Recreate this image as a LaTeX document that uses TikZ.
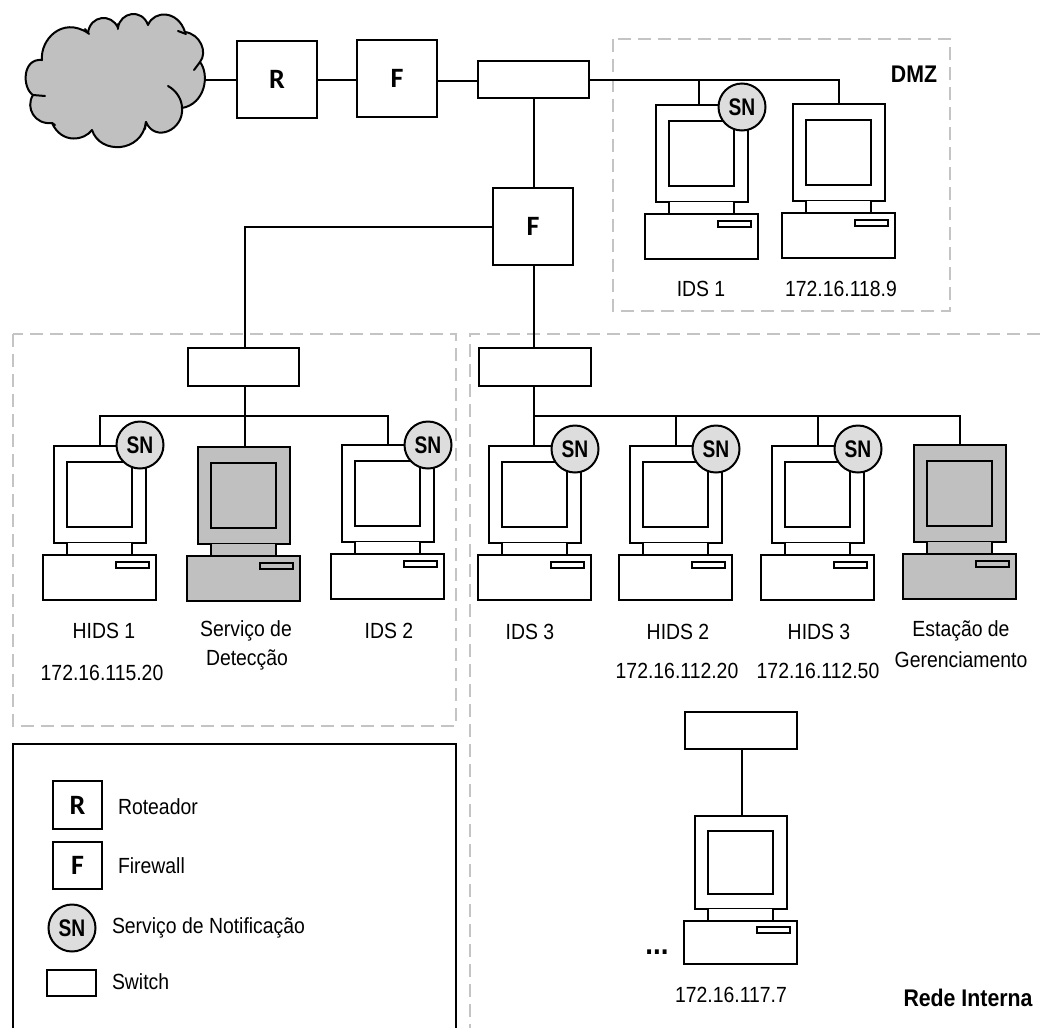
\documentclass[tikz,border=0pt]{standalone}
\usepackage{fontspec}
\usepackage{graphicx}
\setmainfont{Liberation Sans}
\newfontfamily\lblfont{Carlito}[BoldFont={Carlito Bold}]
\newcommand{\tl}[1]{\scalebox{1}[1.13]{\fontsize{19.4}{22}\selectfont #1}}
\newcommand{\tb}[1]{\scalebox{1}[1.13]{\fontsize{21.3}{24}\selectfont\bfseries #1}}
\newcommand{\snt}{\raisebox{-3pt}{\scalebox{0.8}[1]{\fontsize{24}{26}\selectfont\bfseries SN}}}
\newcommand{\letter}[1]{\raisebox{-3.5pt}{\fontsize{28}{30}\selectfont\lblfont\bfseries #1}}
\definecolor{lightfill}{HTML}{C0C0C0}
\definecolor{snfill}{HTML}{DDDDDD}
\definecolor{dashgray}{HTML}{C4C4C4}
\tikzset{
  x=1pt,y=-1pt,
  wire/.style={draw=black,line width=2pt},
  boxnode/.style={draw=black,fill=white,line width=2pt,inner sep=0pt,outer sep=0pt,anchor=north west},
  sn/.style={circle,draw=black,fill=snfill,line width=2pt,minimum size=47pt,inner sep=0pt,outer sep=0pt,text=black},
  zone/.style={draw=dashgray,line width=2pt,dash pattern=on 13pt off 7pt},
  txt/.style={inner sep=0pt,outer sep=0pt,text=black},
  pics/computer/.style={code={
    \filldraw[fill=#1,draw=black] (-46,0) rectangle (46,97);
    \filldraw[fill=#1,draw=black] (-33,16) rectangle (32,81);
    \fill[#1] (-33,97) rectangle (32,109);
    \draw (-33,97) -- (-33,109);
    \draw (32,97) -- (32,109);
    \filldraw[fill=#1,draw=black] (-57,109) rectangle (56,154);
    \filldraw[fill=#1,draw=black] (16,116) rectangle (49,122);
    \coordinate (-top) at (0,0);
  }}
}
\begin{document}
\begin{tikzpicture}[line width=2pt]
\useasboundingbox (0,0) rectangle (1040,1028);

% zones
\draw[zone] (613,39) rectangle (950,311);
\draw[zone] (13,334) rectangle (456,726);
\draw[zone] (1040,334) -- (470,334) -- (470,1028);
\draw[black,line width=1.6pt] (13,1028) -- (13,744) -- (456,744) -- (456,1028);

% cloud
\coordinate (cloudport) at (206,80);
\filldraw[fill=lightfill,draw=black,line join=round]
  (42,60) .. controls (40,40) and (62,16) .. (88,33)
  .. controls (90,15) and (112,13) .. (118,28)
  .. controls (120,12) and (142,8) .. (148,25)
  .. controls (154,10) and (178,10) .. (185,32)
  .. controls (200,34) and (208,52) .. (200,62)
  .. controls (210,75) and (205,104) .. (182,108)
  .. controls (184,130) and (155,143) .. (146,122)
  .. controls (142,153) and (100,155) .. (92,130)
  .. controls (85,140) and (62,145) .. (52,123)
  .. controls (35,125) and (25,108) .. (33,95)
  .. controls (22,88) and (22,58) .. (42,60) -- cycle;
\draw[line cap=round] (168,86) .. controls (177,91) and (182,100) .. (182,108);
\draw[line cap=round] (194,70) -- (200,62);
\draw[line cap=round] (178,31) -- (186,34);
\draw[line cap=round] (33,95) -- (45,96);
\draw[line cap=round] (146,122) -- (145,129);
\draw[line cap=round] (85,29) -- (89,34);
\draw[line cap=round] (118,24) -- (118,29);
\draw[line cap=round] (52,123) -- (55,125);

% switches, firewalls, router
\node[boxnode,minimum width=80pt,minimum height=77pt] (R) at (237,41) {\letter{R}};
\node[boxnode,minimum width=80pt,minimum height=77pt] (F1) at (357,40) {\letter{F}};
\node[boxnode,minimum width=111pt,minimum height=37pt] (swtop) at (478,61) {};
\node[boxnode,minimum width=80pt,minimum height=77pt] (F2) at (493,188) {\letter{F}};
\node[boxnode,minimum width=111pt,minimum height=38pt] (swleft) at (188,348) {};
\node[boxnode,minimum width=112pt,minimum height=38pt] (swright) at (479,348) {};
\node[boxnode,minimum width=112pt,minimum height=37pt] (swbot) at (685,712) {};

% computers
\pic (ids1) at (702,105) {computer=white};
\pic (dmzhost) at (839,104) {computer=white};
\pic (hids1) at (100,446) {computer=white};
\pic (detect) at (244,447) {computer=lightfill};
\pic (ids2) at (388,445) {computer=white};
\pic (ids3) at (535,446) {computer=white};
\pic (hids2) at (676,446) {computer=white};
\pic (hids3) at (818,446) {computer=white};
\pic (mgmt) at (960,445) {computer=lightfill};
\pic[yscale=0.96] (bothost) at (740.5,816) {computer=white};

% connectors
\coordinate (b1) at (699,80);
\coordinate (b2) at (839,80);
\coordinate (l1) at (245,227);
\coordinate (lb) at (245,416);
\coordinate (rb) at (534,416);
\coordinate (fx) at (534,0);
\coordinate (bx) at (742,0);
\draw[wire] (cloudport) -- (R.west |- cloudport);
\draw[wire] (R.east |- 0,79.5) -- (F1.west |- 0,79.5);
\draw[wire] (F1.east |- 0,80.5) -- (swtop.west |- 0,80.5);
\draw[wire] (swtop.east |- 0,80) -- (b2) -- (dmzhost-top);
\draw[wire] (b1) -- (ids1-top -| b1);
\draw[wire] (swtop.south -| fx) -- (F2.north -| fx);
\draw[wire] (F2.west |- 0,227) -- (l1) -- (swleft.north -| l1);
\draw[wire] (F2.south -| fx) -- (swright.north -| fx);
\draw[wire,line width=2.6pt] (swleft.south -| lb) -- (lb);
\draw[wire] (lb) -- (detect-top -| lb);
\draw[wire] (hids1-top) -- (hids1-top |- lb) -- (ids2-top |- lb) -- (ids2-top);
\draw[wire,line width=2.6pt] (swright.south -| rb) -- (ids3-top -| rb);
\draw[wire] (rb) -- (mgmt-top |- rb) -- (mgmt-top);
\draw[wire] (hids2-top |- rb) -- (hids2-top);
\draw[wire] (hids3-top |- rb) -- (hids3-top);
\draw[wire] (swbot.south -| bx) -- (bothost-top -| bx);

% SN badges
\node[sn] (sn1) at (742,107) {\snt};
\node[sn] (sn2) at (140,445) {\snt};
\node[sn] (sn3) at (428,445) {\snt};
\node[sn] (sn4) at (575,449) {\snt};
\node[sn] (sn5) at (716,449) {\snt};
\node[sn] (sn6) at (858,449) {\snt};

% labels
\node[txt] (tdmz) at (914,74) {\tb{DMZ}};
\node[txt] (t1) at (701,289) {\tl{IDS 1}};
\node[txt] (t2) at (841,289) {\tl{172.16.118.9}};
\node[txt] (t3) at (104,631) {\tl{HIDS 1}};
\node[txt] (t4) at (102,673) {\tl{172.16.115.20}};
\node[txt] (t5) at (246,631) {\tl{Serviço de}};
\node[txt] (t6) at (247,660) {\tl{Detecção}};
\node[txt] (t7) at (389,631) {\tl{IDS 2}};
\node[txt] (t8) at (530,632) {\tl{IDS 3}};
\node[txt] (t9) at (678,632) {\tl{HIDS 2}};
\node[txt] (t10) at (819,632) {\tl{HIDS 3}};
\node[txt] (t11) at (677,671) {\tl{172.16.112.20}};
\node[txt] (t12) at (818,671) {\tl{172.16.112.50}};
\node[txt] (t13) at (961,631) {\tl{Estação de}};
\node[txt] (t14) at (961,660) {\tl{Gerenciamento}};
\node[txt] (t15) at (731,995) {\tl{172.16.117.7}};
\node[txt] (dots) at (657,952) {\scalebox{1.3}{\tb{...}}};
\node[txt] (trede) at (968,998) {\tb{Rede Interna}};

% legend
\node[boxnode,minimum width=49pt,minimum height=48pt] (lR) at (53,781) {\letter{R}};
\node[boxnode,minimum width=49pt,minimum height=47pt] (lF) at (53,842) {\letter{F}};
\node[sn] (lSN) at (72,928) {\snt};
\node[boxnode,minimum width=49pt,minimum height=26pt] (lS) at (47,970) {};
\node[txt,anchor=west] (lt1) at (118,807) {\tl{Roteador}};
\node[txt,anchor=west] (lt2) at (118,866) {\tl{Firewall}};
\node[txt,anchor=west] (lt3) at (112,928) {\tl{Serviço de Notificação}};
\node[txt,anchor=west] (lt4) at (112,982) {\tl{Switch}};
\end{tikzpicture}
\end{document}
